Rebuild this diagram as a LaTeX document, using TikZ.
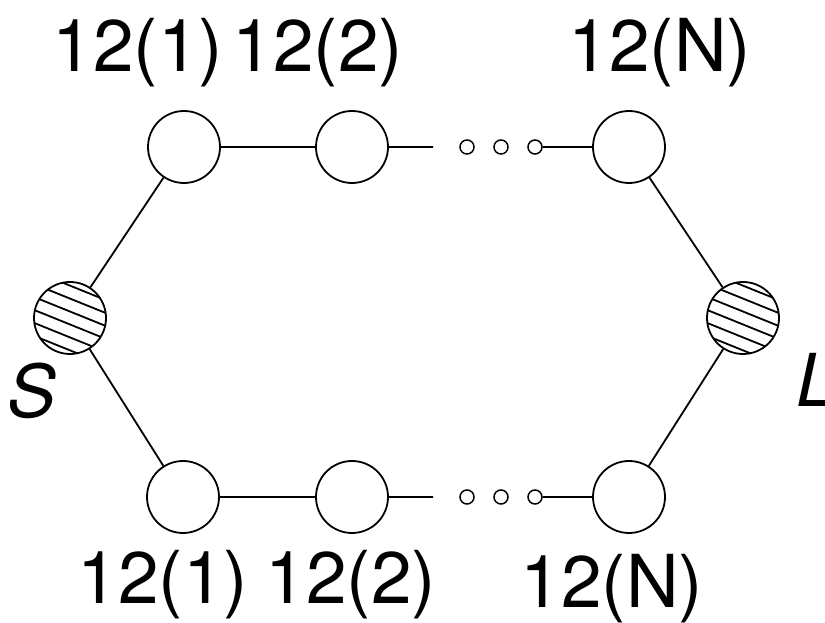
\documentclass[tikz,border=0pt]{standalone}
\usepackage{fontspec}
\setmainfont{TeX Gyre Heros}
\usetikzlibrary{positioning}

\begin{document}
\begin{tikzpicture}[x=1pt, y=1pt, line width=1.8pt,
	site/.style = {shape=circle, draw, minimum size=72pt, inner sep=0pt},
	dot/.style = {shape=circle, draw, minimum size=14pt, inner sep=0pt, line width=1.5pt},
	hatched/.style = {site, path picture={
		\foreach \k in {-30,-18,-6,6,18,30}
			\draw ([shift={(68:\k)}, shift={(-22:-50)}]path picture bounding box.center) -- ++(-22:100);}},
	lbl/.style = {font=\fontsize{73}{80}\selectfont, anchor=base}]
\useasboundingbox (0,0) rectangle (825,623);
% source and load
\node[hatched] (S) at (70,305) {};
\node[hatched] (L) at (743,305) {};
% upper branch
\node[site] (t1) at (184,476) {};
\node[site] (t2) at (352,476) {};
\node[site] (tN) at (629,476) {};
% lower branch
\node[site] (b1) at (183,126) {};
\node[site] (b2) at (352,126) {};
\node[site] (bN) at (629,126) {};
\foreach \x [count=\i] in {467,501,535} {
	\node[dot] (td\i) at (\x,476) {};
	\node[dot] (bd\i) at (\x,126) {};
}
\coordinate (tend) at (433,476);
\coordinate (bend) at (433,126);
\draw (S) -- (t1) (t1) -- (t2) (t2) -- (tend) (td3) -- (tN) (tN) -- (L);
\draw (S) -- (b1) (b1) -- (b2) (b2) -- (bend) (bd3) -- (bN) (bN) -- (L);
% labels
\node[lbl] (t1lab) at (138,551) {12(1)};
\node[lbl] (t2lab) at (318,551) {12(2)};
\node[lbl] (tNlab) at (660,551) {12(N)};
\node[lbl] (b1lab) at (163,19) {12(1)};
\node[lbl] (b2lab) at (351,19) {12(2)};
\node[lbl] (bNlab) at (612,15) {12(N)};
\node[lbl, font=\fontsize{73}{80}\selectfont\itshape] (Slab) at (32,205) {S};
\node[lbl, font=\fontsize{73}{80}\selectfont\itshape, anchor=base west] (Llab) at (792,216) {L};
\end{tikzpicture}
\end{document}
